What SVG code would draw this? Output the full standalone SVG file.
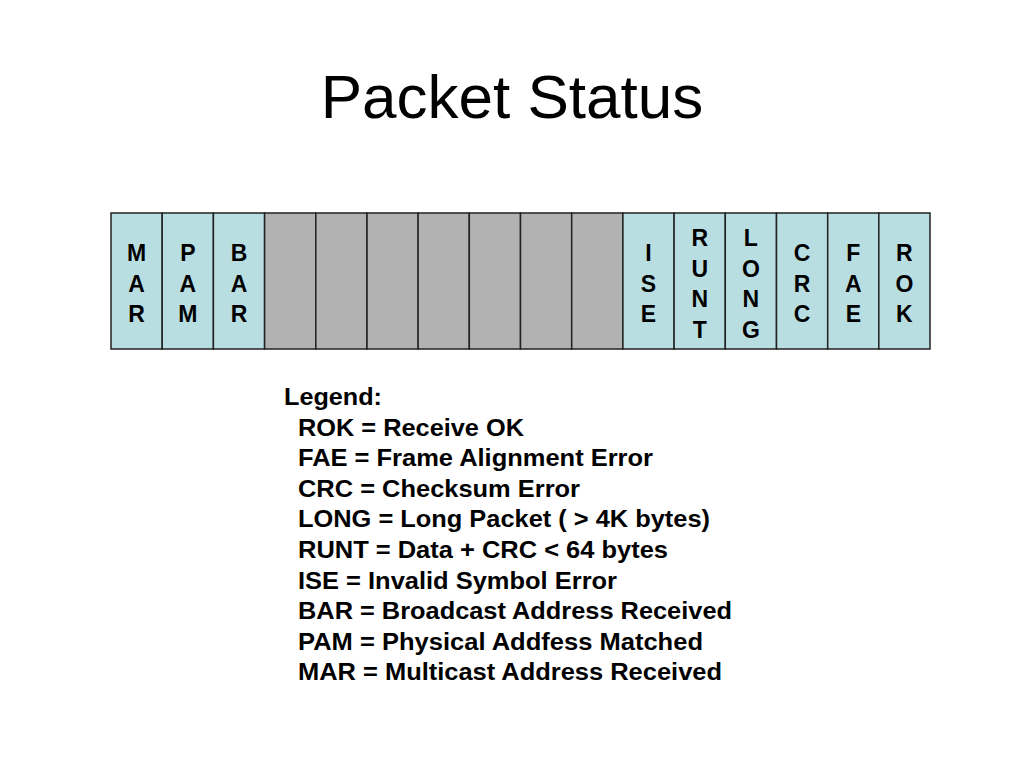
<svg xmlns="http://www.w3.org/2000/svg" width="1024" height="768" viewBox="0 0 1024 768">
  <style>
    .title { font-family: "Liberation Sans", Arial, sans-serif; font-size: 62px; fill: #000; }
    .cell { stroke: #222; stroke-width: 1.5; }
    .flag { fill: #B9DEE2; }
    .res { fill: #B2B2B2; }
    .lbl { font-family: "Liberation Sans", Arial, sans-serif; font-size: 23px; font-weight: bold; fill: #000; text-anchor: middle; }
    .leg { font-family: "Liberation Sans", Arial, sans-serif; font-size: 23.5px; font-weight: bold; fill: #000; }
  </style>
  <rect width="1024" height="768" fill="#fff"/>
  <text class="title" x="512" y="118" text-anchor="middle">Packet Status</text>

  <g id="register">
    <g id="cell-MAR"><rect class="cell flag" x="111" y="213" width="51.2" height="136"/>
      <text class="lbl"><tspan x="136.6" y="261">M</tspan><tspan x="136.6" y="291.5">A</tspan><tspan x="136.6" y="322">R</tspan></text></g>
    <g id="cell-PAM"><rect class="cell flag" x="162.2" y="213" width="51.2" height="136"/>
      <text class="lbl"><tspan x="187.8" y="261">P</tspan><tspan x="187.8" y="291.5">A</tspan><tspan x="187.8" y="322">M</tspan></text></g>
    <g id="cell-BAR"><rect class="cell flag" x="213.4" y="213" width="51.2" height="136"/>
      <text class="lbl"><tspan x="239" y="261">B</tspan><tspan x="239" y="291.5">A</tspan><tspan x="239" y="322">R</tspan></text></g>
    <g id="cell-r1"><rect class="cell res" x="264.6" y="213" width="51.2" height="136"/></g>
    <g id="cell-r2"><rect class="cell res" x="315.8" y="213" width="51.2" height="136"/></g>
    <g id="cell-r3"><rect class="cell res" x="367" y="213" width="51.2" height="136"/></g>
    <g id="cell-r4"><rect class="cell res" x="418.1" y="213" width="51.2" height="136"/></g>
    <g id="cell-r5"><rect class="cell res" x="469.3" y="213" width="51.2" height="136"/></g>
    <g id="cell-r6"><rect class="cell res" x="520.5" y="213" width="51.2" height="136"/></g>
    <g id="cell-r7"><rect class="cell res" x="571.7" y="213" width="51.2" height="136"/></g>
    <g id="cell-ISE"><rect class="cell flag" x="622.9" y="213" width="51.2" height="136"/>
      <text class="lbl"><tspan x="648.5" y="261">I</tspan><tspan x="648.5" y="291.5">S</tspan><tspan x="648.5" y="322">E</tspan></text></g>
    <g id="cell-RUNT"><rect class="cell flag" x="674.1" y="213" width="51.2" height="136"/>
      <text class="lbl"><tspan x="699.7" y="246">R</tspan><tspan x="699.7" y="276.5">U</tspan><tspan x="699.7" y="307">N</tspan><tspan x="699.7" y="337.5">T</tspan></text></g>
    <g id="cell-LONG"><rect class="cell flag" x="725.3" y="213" width="51.2" height="136"/>
      <text class="lbl"><tspan x="750.9" y="246">L</tspan><tspan x="750.9" y="276.5">O</tspan><tspan x="750.9" y="307">N</tspan><tspan x="750.9" y="337.5">G</tspan></text></g>
    <g id="cell-CRC"><rect class="cell flag" x="776.5" y="213" width="51.2" height="136"/>
      <text class="lbl"><tspan x="802.1" y="261">C</tspan><tspan x="802.1" y="291.5">R</tspan><tspan x="802.1" y="322">C</tspan></text></g>
    <g id="cell-FAE"><rect class="cell flag" x="827.7" y="213" width="51.2" height="136"/>
      <text class="lbl"><tspan x="853.3" y="261">F</tspan><tspan x="853.3" y="291.5">A</tspan><tspan x="853.3" y="322">E</tspan></text></g>
    <g id="cell-ROK"><rect class="cell flag" x="878.8" y="213" width="51.2" height="136"/>
      <text class="lbl"><tspan x="904.4" y="261">R</tspan><tspan x="904.4" y="291.5">O</tspan><tspan x="904.4" y="322">K</tspan></text></g>
  </g>

  <g id="legend">
    <text class="leg" x="284" y="405" textLength="98" lengthAdjust="spacingAndGlyphs">Legend:</text>
    <text class="leg" x="298" y="435.5" textLength="226" lengthAdjust="spacingAndGlyphs">ROK = Receive OK</text>
    <text class="leg" x="298" y="466" textLength="355" lengthAdjust="spacingAndGlyphs">FAE = Frame Alignment Error</text>
    <text class="leg" x="298" y="496.5" textLength="282" lengthAdjust="spacingAndGlyphs">CRC = Checksum Error</text>
    <text class="leg" x="298" y="527" textLength="412" lengthAdjust="spacingAndGlyphs">LONG = Long Packet ( &gt; 4K bytes)</text>
    <text class="leg" x="298" y="558" textLength="370" lengthAdjust="spacingAndGlyphs">RUNT = Data + CRC &lt; 64 bytes</text>
    <text class="leg" x="298" y="588.5" textLength="319" lengthAdjust="spacingAndGlyphs">ISE = Invalid Symbol Error</text>
    <text class="leg" x="298" y="619" textLength="434" lengthAdjust="spacingAndGlyphs">BAR = Broadcast Address Received</text>
    <text class="leg" x="298" y="649.5" textLength="405" lengthAdjust="spacingAndGlyphs">PAM = Physical Addfess Matched</text>
    <text class="leg" x="298" y="680" textLength="424" lengthAdjust="spacingAndGlyphs">MAR = Multicast Address Received</text>
  </g>
</svg>
